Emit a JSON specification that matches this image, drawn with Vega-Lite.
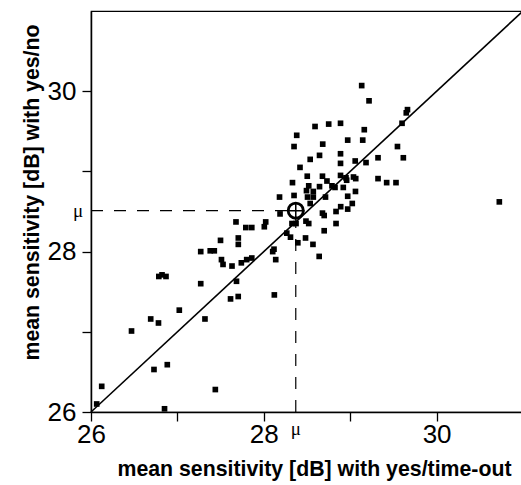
{
  "$schema": "https://vega.github.io/schema/vega-lite/v6.json",
  "width": 432,
  "height": 401,
  "autosize": "none",
  "padding": {"left": 91, "top": 11, "right": 0, "bottom": 73},
  "config": {
    "view": {"stroke": "#000", "strokeWidth": 1.2},
    "axis": {
      "domainColor": "#000", "domainWidth": 1.5, "tickColor": "#000", "tickWidth": 1.3, "tickSize": 9,
      "labelFont": "Liberation Sans", "labelFontSize": 26, "labelColor": "#000", "labelFlush": false,
      "titleFont": "Liberation Sans", "titleFontSize": 21.3, "titleFontWeight": "bold", "titleColor": "#000",
      "grid": false
    }
  },
  "datasets": {
    "pts": [
      {"x":26.066,"y":26.10},{"x":26.124,"y":26.32},{"x":26.469,"y":27.01},{"x":26.691,"y":27.16},{"x":26.781,"y":27.11},
      {"x":26.729,"y":26.53},{"x":26.883,"y":26.59},{"x":26.851,"y":26.04},{"x":27.439,"y":26.28},{"x":26.785,"y":27.69},
      {"x":26.822,"y":27.71},{"x":26.868,"y":27.69},{"x":27.022,"y":27.27},{"x":27.270,"y":28.00},{"x":27.270,"y":27.60},
      {"x":27.319,"y":27.16},{"x":27.380,"y":28.01},{"x":27.427,"y":28.01},{"x":27.499,"y":28.14},{"x":27.510,"y":27.90},
      {"x":27.528,"y":27.84},{"x":27.632,"y":27.82},{"x":27.705,"y":28.17},{"x":27.705,"y":28.09},{"x":27.740,"y":27.86},
      {"x":27.802,"y":27.90},{"x":27.861,"y":27.92},{"x":27.684,"y":27.63},{"x":27.615,"y":27.41},{"x":27.704,"y":27.44},
      {"x":28.103,"y":28.00},{"x":28.118,"y":28.03},{"x":28.138,"y":27.90},{"x":28.122,"y":27.46},{"x":28.266,"y":28.23},
      {"x":28.309,"y":28.18},{"x":28.394,"y":28.11},{"x":28.483,"y":28.17},{"x":28.569,"y":28.09},{"x":28.641,"y":27.94},
      {"x":28.699,"y":28.26},{"x":27.678,"y":28.37},{"x":27.792,"y":28.30},{"x":27.861,"y":28.30},{"x":28.006,"y":28.31},
      {"x":28.022,"y":28.37},{"x":28.326,"y":28.35},{"x":28.373,"y":28.35},{"x":28.488,"y":28.38},{"x":28.520,"y":28.35},
      {"x":28.836,"y":28.35},{"x":28.182,"y":28.68},{"x":28.188,"y":28.47},{"x":28.537,"y":28.60},{"x":28.679,"y":28.48},
      {"x":28.699,"y":28.45},{"x":28.890,"y":28.56},{"x":28.836,"y":28.50},{"x":28.971,"y":28.53},{"x":29.024,"y":28.60},
      {"x":28.332,"y":28.86},{"x":28.350,"y":28.70},{"x":28.494,"y":28.76},{"x":28.573,"y":28.75},{"x":28.506,"y":28.68},
      {"x":28.573,"y":28.68},{"x":28.714,"y":28.68},{"x":28.971,"y":28.69},{"x":29.061,"y":28.75},{"x":28.520,"y":28.82},
      {"x":28.645,"y":28.81},{"x":28.731,"y":28.88},{"x":28.789,"y":28.82},{"x":28.824,"y":28.80},{"x":28.920,"y":28.80},
      {"x":28.419,"y":29.05},{"x":28.503,"y":28.94},{"x":28.679,"y":28.94},{"x":28.888,"y":28.95},{"x":28.951,"y":28.92},
      {"x":29.038,"y":28.93},{"x":29.064,"y":28.91},{"x":28.959,"y":28.89},{"x":29.322,"y":28.91},{"x":29.422,"y":28.86},
      {"x":29.530,"y":28.86},{"x":28.537,"y":29.15},{"x":28.645,"y":29.20},{"x":28.888,"y":29.22},{"x":28.888,"y":29.10},
      {"x":29.058,"y":29.13},{"x":29.183,"y":29.11},{"x":29.322,"y":29.17},{"x":29.615,"y":29.17},{"x":28.350,"y":29.31},
      {"x":28.682,"y":29.34},{"x":28.971,"y":29.39},{"x":29.145,"y":29.39},{"x":29.547,"y":29.31},{"x":28.381,"y":29.45},
      {"x":28.593,"y":29.56},{"x":28.751,"y":29.59},{"x":28.888,"y":29.60},{"x":29.163,"y":29.52},{"x":29.600,"y":29.60},
      {"x":29.663,"y":29.77},{"x":29.649,"y":29.73},{"x":29.133,"y":30.07},{"x":29.218,"y":29.88},{"x":30.726,"y":28.62}
    ],
    "diag": [{"x":26,"y":26,"x2":31,"y2":31}],
    "hdash": [{"x":26,"x2":28.37,"y":28.51}],
    "vdash": [{"x":28.37,"y":26,"y2":28.51}],
    "mean": [{"x":28.37,"y":28.51}],
    "mulabels": [{"x":26,"y":28.51,"label":"μ","pos":"left"},{"x":28.37,"y":26,"label":"μ","pos":"bottom"}]
  },
  "layer": [
    {
      "data": {"name": "diag"},
      "mark": {"type": "rule", "color": "#000", "strokeWidth": 1.6},
      "encoding": {
        "x": {"field": "x", "type": "quantitative", "scale": {"domain": [26, 31], "nice": false, "zero": false},
              "axis": {"values": [26, 27, 28, 29, 30], "labelExpr": "datum.value % 2 == 0 ? format(datum.value, 'd') : ''", "title": "mean sensitivity [dB] with yes/time-out", "labelPadding": 0, "titleX": 223, "titleY": 57, "titleBaseline": "middle", "titleAlign": "center"}},
        "y": {"field": "y", "type": "quantitative", "scale": {"domain": [26, 31], "nice": false, "zero": false},
              "axis": {"values": [26, 27, 28, 29, 30], "labelExpr": "datum.value % 2 == 0 ? format(datum.value, 'd') : ''", "title": "mean sensitivity [dB] with yes/no", "labelPadding": 6, "titleX": -59, "titleY": 181, "titleBaseline": "middle", "titleAlign": "center", "titleAngle": 270}},
        "x2": {"field": "x2"},
        "y2": {"field": "y2"}
      }
    },
    {
      "data": {"name": "hdash"},
      "mark": {"type": "rule", "color": "#000", "strokeWidth": 1.2, "strokeDash": [12, 11]},
      "encoding": {
        "x": {"field": "x", "type": "quantitative"},
        "x2": {"field": "x2"},
        "y": {"field": "y", "type": "quantitative"}
      }
    },
    {
      "data": {"name": "vdash"},
      "mark": {"type": "rule", "color": "#000", "strokeWidth": 1.2, "strokeDash": [12, 11]},
      "encoding": {
        "x": {"field": "x", "type": "quantitative"},
        "y": {"field": "y", "type": "quantitative"},
        "y2": {"field": "y2"}
      }
    },
    {
      "data": {"name": "pts"},
      "mark": {"type": "point", "shape": "square", "filled": true, "color": "#000", "opacity": 1, "size": 32},
      "encoding": {
        "x": {"field": "x", "type": "quantitative"},
        "y": {"field": "y", "type": "quantitative"}
      }
    },
    {
      "data": {"name": "mean"},
      "mark": {"type": "point", "shape": "circle", "filled": false, "color": "#000", "opacity": 1, "size": 230, "strokeWidth": 2.8},
      "encoding": {
        "x": {"field": "x", "type": "quantitative"},
        "y": {"field": "y", "type": "quantitative"}
      }
    },
    {
      "data": {"name": "mean"},
      "mark": {"type": "point", "shape": "M-1,0L1,0M0,-1L0,1", "filled": false, "color": "#000", "opacity": 1, "size": 300, "strokeWidth": 1.5},
      "encoding": {
        "x": {"field": "x", "type": "quantitative"},
        "y": {"field": "y", "type": "quantitative"}
      }
    },
    {
      "data": {"name": "mulabels"},
      "transform": [{"filter": "datum.pos == 'left'"}],
      "mark": {"type": "text", "font": "Liberation Serif", "fontSize": 19, "color": "#000", "dx": -13, "dy": 0, "align": "center", "baseline": "middle", "clip": false},
      "encoding": {
        "x": {"field": "x", "type": "quantitative"},
        "y": {"field": "y", "type": "quantitative"},
        "text": {"field": "label"}
      }
    },
    {
      "data": {"name": "mulabels"},
      "transform": [{"filter": "datum.pos == 'bottom'"}],
      "mark": {"type": "text", "font": "Liberation Serif", "fontSize": 19, "color": "#000", "dy": 17, "align": "center", "baseline": "middle", "clip": false},
      "encoding": {
        "x": {"field": "x", "type": "quantitative"},
        "y": {"field": "y", "type": "quantitative"},
        "text": {"field": "label"}
      }
    }
  ]
}
